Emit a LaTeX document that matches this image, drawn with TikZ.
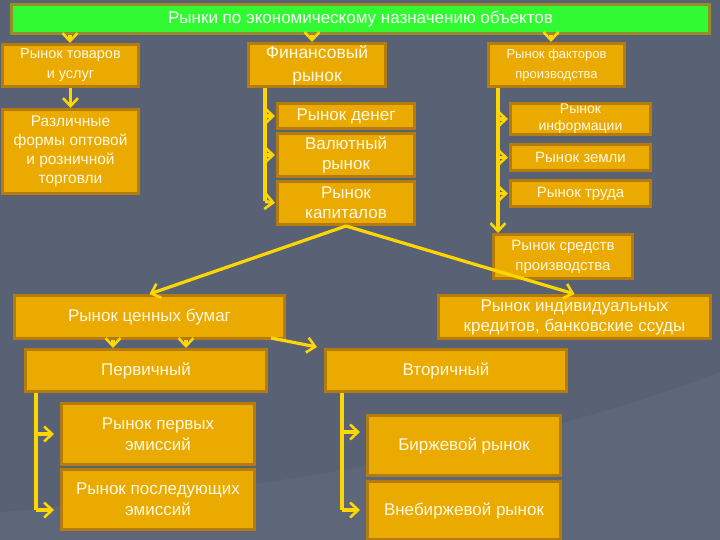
\documentclass[tikz,border=0pt]{standalone}
\usepackage{fontspec}
\setmainfont{Liberation Sans}
\usetikzlibrary{arrows.meta,calc}
\definecolor{bg}{RGB}{89,97,116}
\definecolor{bglight}{RGB}{94,102,121}
\definecolor{boxfill}{RGB}{235,170,0}
\definecolor{boxline}{RGB}{180,124,14}
\definecolor{txt}{RGB}{255,248,228}
\definecolor{gfill}{RGB}{50,250,50}
\definecolor{gline}{RGB}{150,140,40}
\definecolor{yl}{RGB}{255,214,0}
\newcommand\fsz[2]{\fontsize{#1}{#2}\selectfont}
\begin{document}
\begin{tikzpicture}[x=1pt,y=-1pt,
  box/.style={draw=boxline, fill=boxfill, line width=3pt, text=txt, align=center,
    inner sep=0pt, anchor=north west},
  gbox/.style={box, draw=gline, fill=gfill, text=white},
  conn/.style={draw=yl, line width=3.2pt},
  arr/.style={conn, -{Straight Barb[length=8pt,width=15pt,line width=2.6pt]}},
]
\fill[bg] (0,0) rectangle (720,540);
\fill[bglight] (0,540) -- (0,512) .. controls (250,492) and (520,450) .. (720,372) -- (720,540) -- cycle;
\useasboundingbox (0,0) rectangle (720,540);

% boxes
\node[gbox, minimum width=698, minimum height=29, font=\fsz{17}{20}] (top) at (10,3) {Рынки по экономическому назначению объектов};
\node[box, minimum width=136, minimum height=42, font=\fsz{14.5}{20}] (goods) at (1,43) {Рынок товаров\\и услуг};
\node[box, minimum width=137, minimum height=43, font=\fsz{17.5}{23}] (fin) at (247,42) {Финансовый\\рынок};
\node[box, minimum width=136, minimum height=43, font=\fsz{13}{20}] (fac) at (487,42) {Рынок факторов\\производства};
\node[box, minimum width=136, minimum height=84, font=\fsz{15.5}{19}] (razl) at (1,108) {Различные\\формы оптовой\\и розничной\\торговли};
\node[box, minimum width=137, minimum height=25, font=\fsz{17}{20}] (den) at (276,102) {Рынок денег};
\node[box, minimum width=137, minimum height=43, font=\fsz{17}{20}] (val) at (276,132) {Валютный\\рынок};
\node[box, minimum width=137, minimum height=43, font=\fsz{17}{20}] (kap) at (276,180) {Рынок\\капиталов};
\node[box, minimum width=140, minimum height=31, font=\fsz{14}{17}] (inf) at (509,102) {Рынок\\информации};
\node[box, minimum width=140, minimum height=26, font=\fsz{15}{18}] (zem) at (509,143) {Рынок земли};
\node[box, minimum width=140, minimum height=26, font=\fsz{15}{18}] (trud) at (509,179) {Рынок труда};
\node[box, minimum width=139, minimum height=44, font=\fsz{15}{20}] (sred) at (492,233) {Рынок средств\\производства};
\node[box, minimum width=270, minimum height=43, font=\fsz{17}{20}] (cb) at (13,294) {Рынок ценных бумаг};
\node[box, minimum width=272, minimum height=43, font=\fsz{17}{20}] (kr) at (437,294) {Рынок индивидуальных\\кредитов, банковские ссуды};
\node[box, minimum width=241, minimum height=42, font=\fsz{17}{20}] (perv) at (24,348) {Первичный};
\node[box, minimum width=241, minimum height=42, font=\fsz{17}{20}] (vt) at (324,348) {Вторичный};
\node[box, minimum width=193, minimum height=61, font=\fsz{17}{21}] (pe) at (60,402) {Рынок первых\\эмиссий};
\node[box, minimum width=193, minimum height=60, font=\fsz{17}{21}] (pos) at (60,468) {Рынок последующих\\эмиссий};
\node[box, minimum width=193, minimum height=60, font=\fsz{17}{21}] (bir) at (366,414) {Биржевой рынок};
\node[box, minimum width=193, minimum height=58, font=\fsz{17}{21}] (vne) at (366,480) {Внебиржевой рынок};

% helper x positions
\path (70,0) coordinate (xa) (312,0) coordinate (xb) (551,0) coordinate (xc)
      (265,0) coordinate (xf) (498,0) coordinate (xr)
      (113,0) coordinate (xp1) (186,0) coordinate (xp2)
      (36,0) coordinate (xl) (342,0) coordinate (xv);
\coordinate (fend) at (265,201.5);
\coordinate (pend) at (36,510);
\coordinate (vend) at (342,510);
\coordinate (vmid) at (342,432);

% top arrows
\draw[arr] (top.south -| xa) -- (goods.north -| xa);
\draw[arr] (top.south -| xb) -- (fin.north -| xb);
\draw[arr] (top.south -| xc) -- (fac.north -| xc);
\draw[arr] (goods.south) -- (razl.north);

% financial branch
\draw[conn] (fin.south -| xf) -- (fend);
\draw[arr,shorten >=1pt] (den.west -| xf) -- (den.west);
\draw[arr,shorten >=1pt] (val.west -| xf) -- (val.west);
\draw[arr,shorten >=1pt] (fend) -- (kap.west);

% factors branch
\draw[arr] (fac.south -| xr) -- (sred.north -| xr);
\draw[arr,shorten >=1pt] (inf.west -| xr) -- (inf.west);
\draw[arr,shorten >=1pt] (zem.west -| xr) -- (zem.west);
\draw[arr,shorten >=1pt] (trud.west -| xr) -- (trud.west);

% capital to securities / credits
\draw[arr] (kap.south) -- (cb.north);
\draw[arr] (kap.south) -- (kr.north);

% securities
\draw[arr] (cb.south -| xp1) -- (perv.north -| xp1);
\draw[arr] (cb.south -| xp2) -- (perv.north -| xp2);
\draw[arr] ($(cb.south east)+(-15,-2)$) -- ($(vt.north west)+(-7,-1)$);

% primary
\draw[conn] (perv.south -| xl) -- (pend);
\draw[arr,shorten >=6pt] (pe.west -| xl) -- (pe.west);
\draw[arr,shorten >=6pt] (pend) -- (pend -| pos.west);

% secondary
\draw[conn] (vt.south -| xv) -- (vend);
\draw[arr,shorten >=6pt] (vmid) -- (vmid -| bir.west);
\draw[arr,shorten >=6pt] (vend) -- (vend -| vne.west);
\end{tikzpicture}
\end{document}
